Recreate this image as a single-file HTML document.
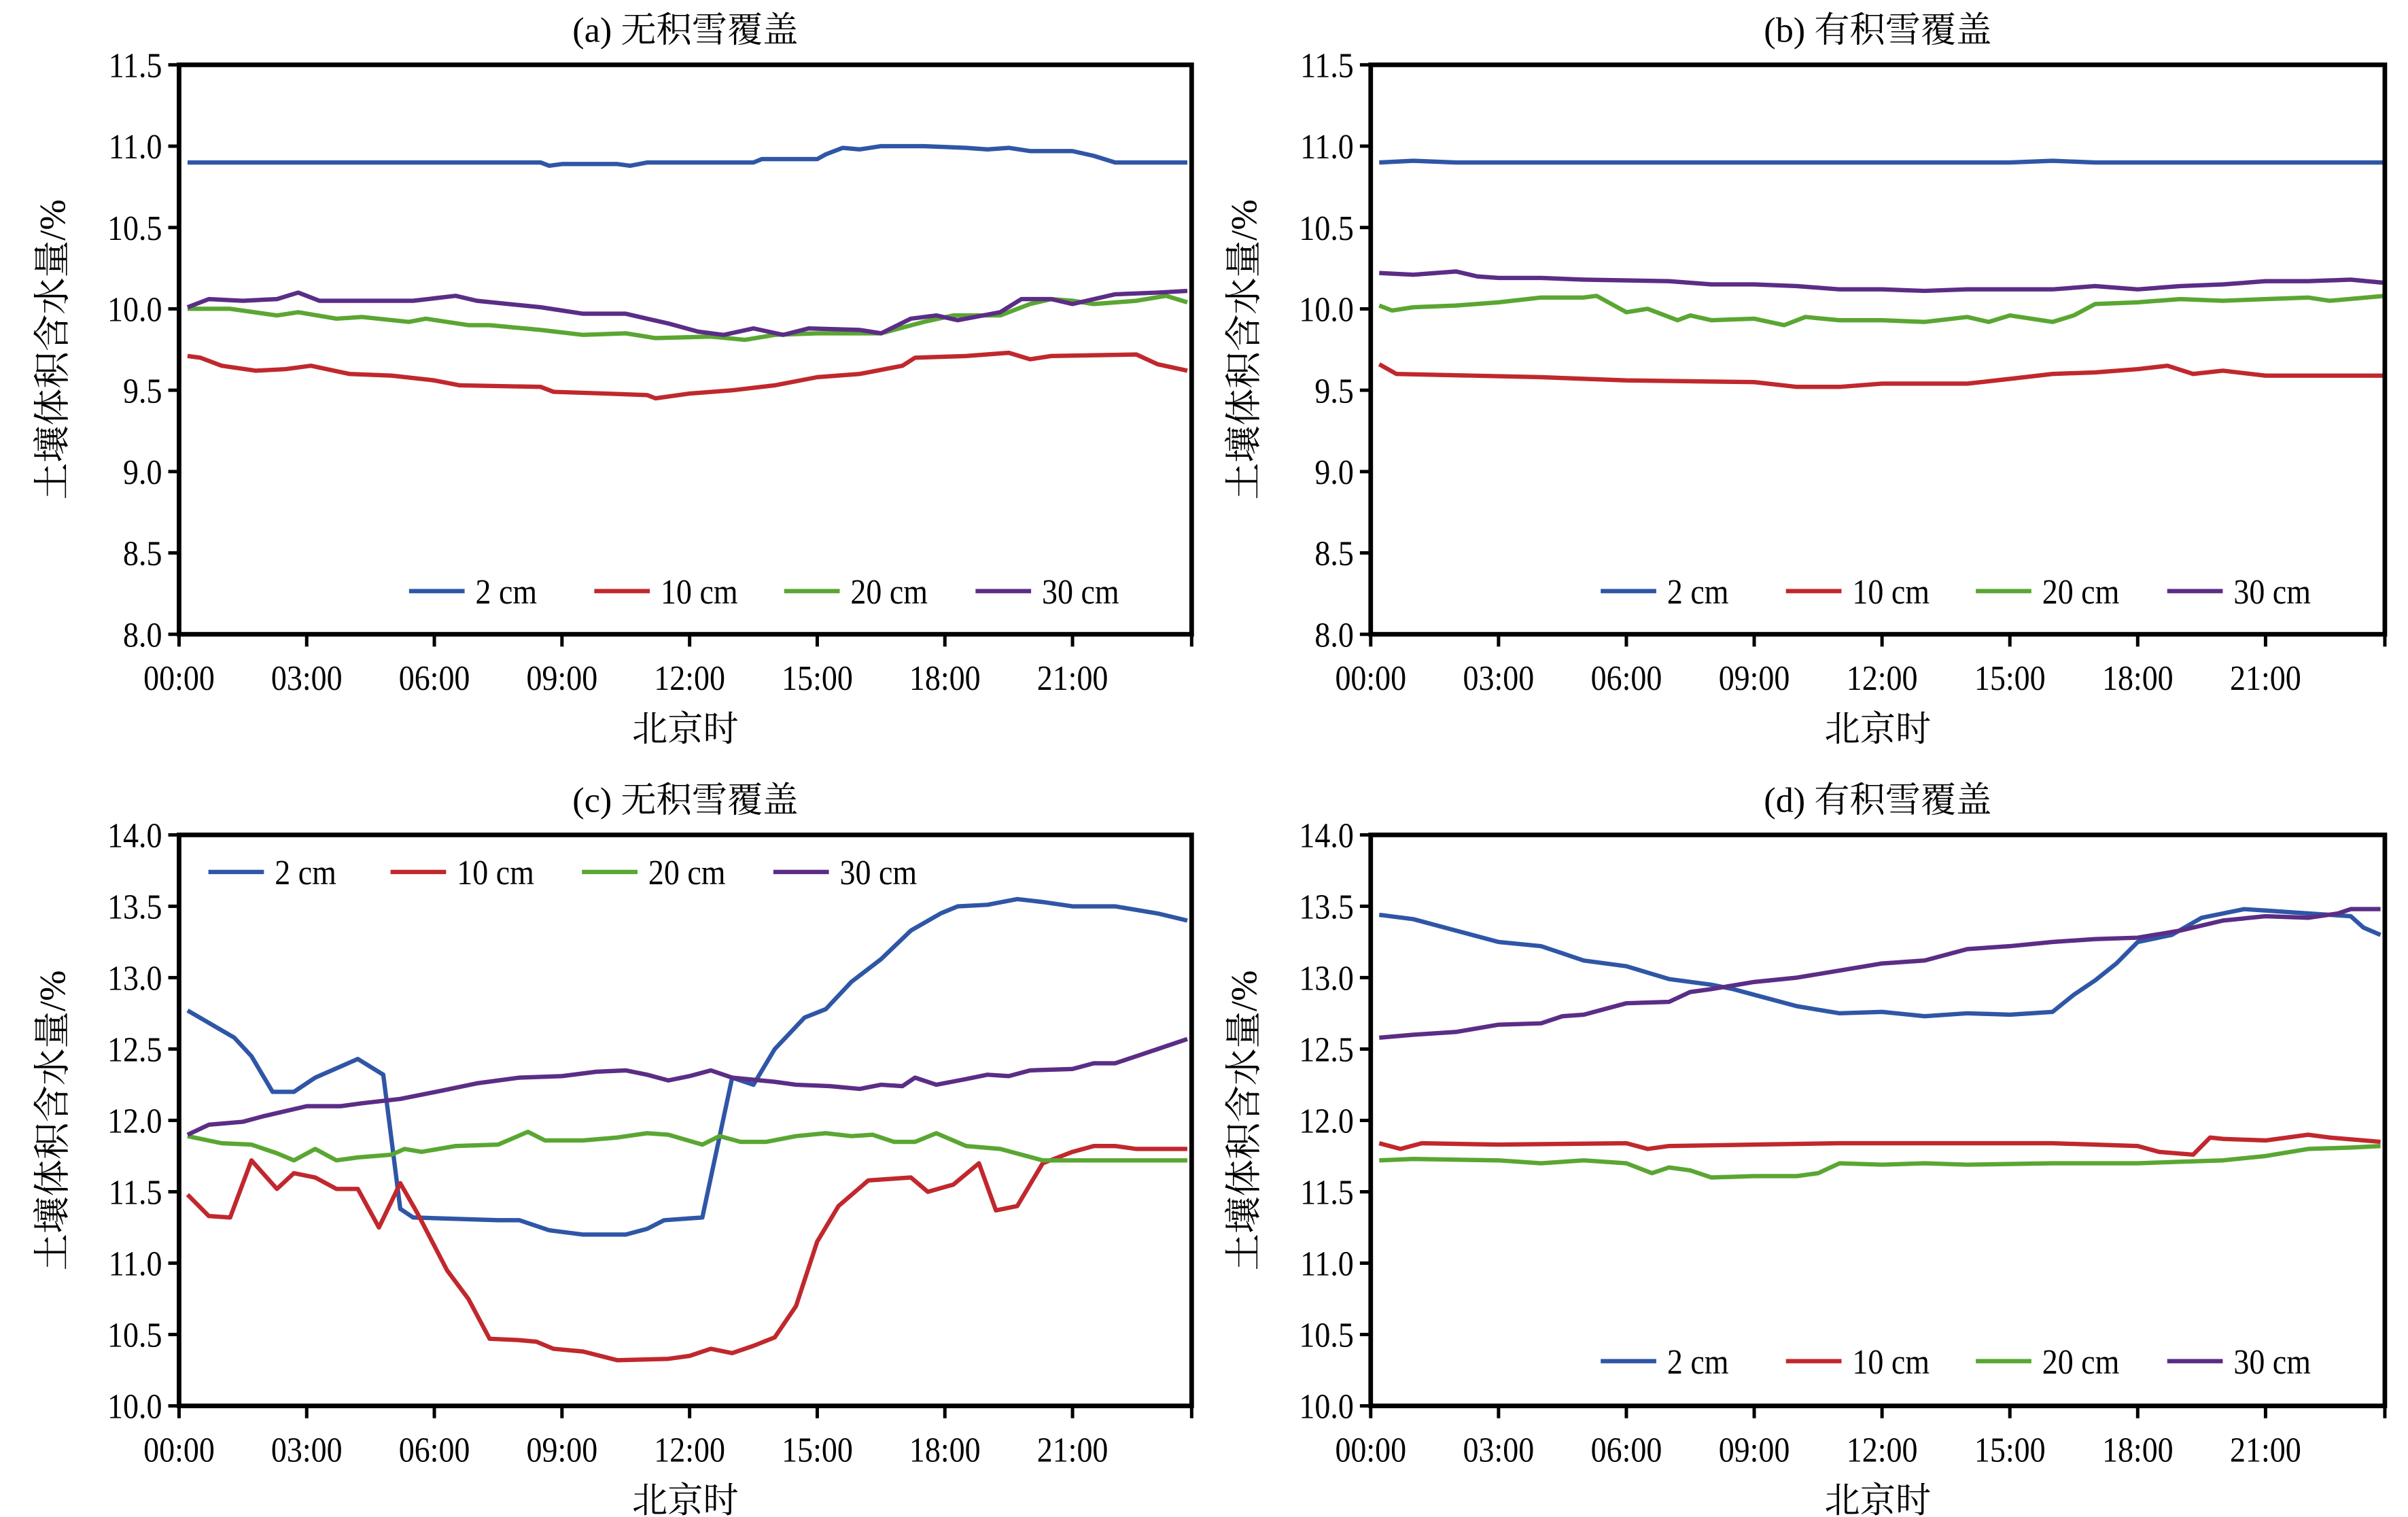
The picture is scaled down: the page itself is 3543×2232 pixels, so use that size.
<!DOCTYPE html>
<html><head><meta charset="utf-8">
<style>
html,body{margin:0;padding:0;background:#fff;}
svg{display:block;}
text{font-family:"Liberation Serif","Noto Serif CJK SC","Noto Sans CJK SC",serif;fill:#000;}
</style></head>
<body>
<svg id="s" width="3543" height="2232" viewBox="0 0 1560 983" preserveAspectRatio="none" xmlns="http://www.w3.org/2000/svg"></svg>
<script>
const S=document.getElementById('s');
const C={b:'#2f56a6',r:'#c0282d',g:'#5aa632',p:'#5b2d86'};
let h='';
function tx(x,y,s,fs,anc){ // condensed text
  return `<text x="0" y="0" font-size="${fs}" text-anchor="${anc}" transform="translate(${x},${y}) scale(0.88,1)">${s}</text>`;
}
function panel(o){
  const {x0,x1,y0,y1,vmin,vmax,step,title,series,leg}=o;
  const X=t=>x0+(x1-x0)*t/23.8;
  const Y=v=>y1-(y1-y0)*(v-vmin)/(vmax-vmin);
  h+=`<text x="${(x0+x1)/2}" y="${y0-15}" font-size="23" text-anchor="middle">${title}</text>`;
  for(const [c,d] of series){
    let pts=[];for(let i=0;i<d.length;i+=2)pts.push(X(d[i]).toFixed(1)+','+Y(d[i+1]).toFixed(1));
    h+=`<polyline points="${pts.join(' ')}" fill="none" stroke="${C[c]}" stroke-width="2.8" stroke-linejoin="round"/>`;
  }
  h+=`<rect x="${x0}" y="${y0}" width="${x1-x0}" height="${y1-y0}" fill="none" stroke="#000" stroke-width="3"/>`;
  for(let v=vmin;v<=vmax+1e-6;v+=step){
    const y=Y(v);
    h+=`<line x1="${x0-7}" y1="${y}" x2="${x0}" y2="${y}" stroke="#000" stroke-width="2.2"/>`;
    h+=tx(x0-11,y+8,v.toFixed(1),23,'end');
  }
  const labs=['00:00','03:00','06:00','09:00','12:00','15:00','18:00','21:00'];
  for(let i=0;i<8;i++){const x=X(i*3);
    h+=`<line x1="${x}" y1="${y1}" x2="${x}" y2="${y1+8}" stroke="#000" stroke-width="2.2"/>`;
    h+=tx(x,y1+36,labs[i],23,'middle');}
  h+=`<line x1="${x1}" y1="${y1}" x2="${x1}" y2="${y1+8}" stroke="#000" stroke-width="2.2"/>`;
  h+=`<text x="${(x0+x1)/2}" y="${y1+69}" font-size="23" text-anchor="middle">北京时</text>`;
  const cy=(y0+y1)/2;
  h+=`<text x="0" y="0" font-size="24" text-anchor="middle" transform="translate(${x0-74},${cy}) rotate(-90)">土壤体积含水量/%</text>`;
  const names=['2 cm','10 cm','20 cm','30 cm'],cs=['b','r','g','p'];
  for(let i=0;i<4;i++){const [lx,ly]=[leg[0]+leg[1][i],leg[2]];
    h+=`<line x1="${lx}" y1="${ly}" x2="${lx+36}" y2="${ly}" stroke="${C[cs[i]]}" stroke-width="2.8"/>`;
    h+=tx(lx+43,ly+8,names[i],23,'start');}
}
const LO=[0,120,243,367];
panel({x0:116,x1:772,y0:42,y1:411,vmin:8,vmax:11.5,step:0.5,title:'(a) 无积雪覆盖',leg:[265,LO,383],series:[
['b',[0.2,10.9,8.5,10.9,8.7,10.88,9,10.89,10.3,10.89,10.6,10.88,11,10.9,13.5,10.9,13.7,10.92,15,10.92,15.2,10.95,15.6,10.99,16,10.98,16.5,11.0,17.5,11.0,18.5,10.99,19,10.98,19.5,10.99,20,10.97,21,10.97,21.5,10.94,22,10.9,23.7,10.9]],
['r',[0.2,9.71,0.5,9.7,1,9.65,1.8,9.62,2.5,9.63,3.1,9.65,4,9.6,5,9.59,6,9.56,6.6,9.53,8.5,9.52,8.8,9.49,10,9.48,11,9.47,11.2,9.45,12,9.48,13,9.5,14,9.53,15,9.58,16,9.6,17,9.65,17.3,9.7,18.5,9.71,19.5,9.73,20,9.69,20.5,9.71,22.5,9.72,23,9.66,23.7,9.62]],
['g',[0.2,10,1.2,10,2.3,9.96,2.8,9.98,3.7,9.94,4.3,9.95,5.4,9.92,5.8,9.94,6.8,9.9,7.3,9.9,8.5,9.87,9.5,9.84,10.5,9.85,11.2,9.82,12.5,9.83,13.3,9.81,14,9.84,15,9.85,16.5,9.85,17.5,9.92,18.2,9.96,19.3,9.96,20,10.03,20.5,10.06,21,10.05,21.5,10.03,22.5,10.05,23.2,10.08,23.7,10.04]],
['p',[0.2,10.01,0.7,10.06,1.5,10.05,2.3,10.06,2.8,10.1,3.3,10.05,5.5,10.05,6.5,10.08,7,10.05,8.5,10.01,9.5,9.97,10.5,9.97,11,9.94,11.5,9.91,12.2,9.86,12.8,9.84,13.5,9.88,14.2,9.84,14.8,9.88,16,9.87,16.5,9.85,17.2,9.94,17.8,9.96,18.3,9.93,19.3,9.98,19.8,10.06,20.5,10.06,21,10.03,22,10.09,23,10.1,23.7,10.11]]]});
panel({x0:888,x1:1545,y0:42,y1:411,vmin:8,vmax:11.5,step:0.5,title:'(b) 有积雪覆盖',leg:[1037,LO,383],series:[
['b',[0.2,10.9,1,10.91,2,10.9,15,10.9,16,10.91,17,10.9,23.8,10.9]],
['r',[0.2,9.66,0.6,9.6,4,9.58,6,9.56,9,9.55,10,9.52,11,9.52,12,9.54,14,9.54,15,9.57,16,9.6,17,9.61,18,9.63,18.7,9.65,19.3,9.6,20,9.62,21,9.59,23.8,9.59]],
['g',[0.2,10.02,0.5,9.99,1,10.01,2,10.02,3,10.04,4,10.07,5,10.07,5.3,10.08,6,9.98,6.5,10,7.2,9.93,7.5,9.96,8,9.93,9,9.94,9.7,9.9,10.2,9.95,11,9.93,12,9.93,13,9.92,14,9.95,14.5,9.92,15,9.96,15.5,9.94,16,9.92,16.5,9.96,17,10.03,18,10.04,19,10.06,20,10.05,21,10.06,22,10.07,22.5,10.05,23.8,10.08]],
['p',[0.2,10.22,1,10.21,2,10.23,2.5,10.2,3,10.19,4,10.19,5,10.18,7,10.17,8,10.15,9,10.15,10,10.14,11,10.12,12,10.12,13,10.11,14,10.12,16,10.12,17,10.14,18,10.12,19,10.14,20,10.15,21,10.17,22,10.17,23,10.18,23.8,10.16]]]});
panel({x0:116,x1:772,y0:541,y1:911,vmin:10,vmax:14,step:0.5,title:'(c) 无积雪覆盖',leg:[135,[0,118,242,366],565],series:[
['b',[0.2,12.77,1.3,12.58,1.7,12.45,2.2,12.2,2.7,12.2,3.2,12.3,4.2,12.43,4.8,12.32,5.2,11.38,5.5,11.32,7.5,11.3,8,11.3,8.7,11.23,9.5,11.2,10.5,11.2,11,11.24,11.4,11.3,12.3,11.32,13,12.3,13.5,12.25,14,12.5,14.7,12.72,15.2,12.78,15.8,12.97,16.5,13.13,17.2,13.33,17.9,13.45,18.3,13.5,19,13.51,19.7,13.55,20.3,13.53,21,13.5,22,13.5,23,13.45,23.7,13.4]],
['r',[0.2,11.48,0.7,11.33,1.2,11.32,1.7,11.72,2.3,11.52,2.7,11.63,3.2,11.6,3.7,11.52,4.2,11.52,4.7,11.25,5.2,11.56,5.6,11.35,6.3,10.95,6.8,10.75,7.3,10.47,8,10.46,8.4,10.45,8.8,10.4,9.5,10.38,10.3,10.32,11.5,10.33,12,10.35,12.5,10.4,13,10.37,13.5,10.42,14,10.48,14.5,10.7,15,11.15,15.5,11.4,16.2,11.58,17.2,11.6,17.6,11.5,18.2,11.55,18.8,11.7,19.2,11.37,19.7,11.4,20.3,11.7,21,11.78,21.5,11.82,22,11.82,22.5,11.8,23.7,11.8]],
['g',[0.2,11.89,1,11.84,1.7,11.83,2.3,11.77,2.7,11.72,3.2,11.8,3.7,11.72,4.2,11.74,5,11.76,5.3,11.8,5.7,11.78,6.5,11.82,7.5,11.83,8.2,11.92,8.6,11.86,9.5,11.86,10.3,11.88,11,11.91,11.5,11.9,12.3,11.83,12.7,11.89,13.2,11.85,13.8,11.85,14.5,11.89,15.2,11.91,15.8,11.89,16.3,11.9,16.8,11.85,17.3,11.85,17.8,11.91,18.5,11.82,19.3,11.8,20.3,11.72,21,11.72,23.7,11.72]],
['p',[0.2,11.9,0.7,11.97,1.5,11.99,2,12.03,3,12.1,3.8,12.1,4.3,12.12,5.2,12.15,6.2,12.21,7,12.26,8,12.3,9,12.31,9.8,12.34,10.5,12.35,11,12.32,11.5,12.28,12,12.31,12.5,12.35,13,12.3,14,12.27,14.5,12.25,15.3,12.24,16,12.22,16.5,12.25,17,12.24,17.3,12.3,17.8,12.25,18.5,12.29,19,12.32,19.5,12.31,20,12.35,21,12.36,21.5,12.4,22,12.4,22.5,12.45,23,12.5,23.7,12.57]]]});
panel({x0:888,x1:1545,y0:541,y1:911,vmin:10,vmax:14,step:0.5,title:'(d) 有积雪覆盖',leg:[1037,LO,882],series:[
['b',[0.2,13.44,1,13.41,2,13.33,3,13.25,4,13.22,5,13.12,6,13.08,7,12.99,8,12.95,8.5,12.92,9,12.88,10,12.8,11,12.75,12,12.76,13,12.73,14,12.75,15,12.74,16,12.76,16.5,12.88,17,12.98,17.5,13.1,18,13.25,18.8,13.3,19.5,13.42,20.5,13.48,21,13.47,22,13.45,23,13.43,23.3,13.35,23.7,13.3]],
['r',[0.2,11.84,0.7,11.8,1.2,11.84,3,11.83,6,11.84,6.5,11.8,7,11.82,9,11.83,11,11.84,14,11.84,16,11.84,18,11.82,18.5,11.78,19.3,11.76,19.7,11.88,20,11.87,21,11.86,22,11.9,22.5,11.88,23.7,11.85]],
['g',[0.2,11.72,1,11.73,3,11.72,4,11.7,5,11.72,6,11.7,6.6,11.63,7,11.67,7.5,11.65,8,11.6,9,11.61,10,11.61,10.5,11.63,11,11.7,12,11.69,13,11.7,14,11.69,16,11.7,18,11.7,19,11.71,20,11.72,21,11.75,22,11.8,23,11.81,23.7,11.82]],
['p',[0.2,12.58,1,12.6,2,12.62,3,12.67,4,12.68,4.5,12.73,5,12.74,6,12.82,7,12.83,7.5,12.9,8,12.92,9,12.97,10,13,11,13.05,12,13.1,13,13.12,14,13.2,15,13.22,16,13.25,17,13.27,18,13.28,19,13.33,20,13.4,21,13.43,22,13.42,22.7,13.45,23,13.48,23.7,13.48]]]});
S.innerHTML=h;
</script>
</body></html>
